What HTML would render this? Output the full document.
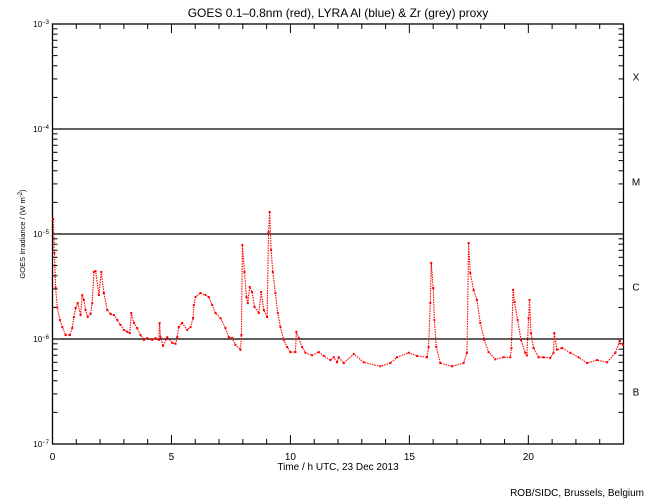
<!DOCTYPE html>
<html><head><meta charset="utf-8"><style>
body{margin:0;background:#fff;}
svg{display:block;font-family:"Liberation Sans",sans-serif;}
</style></head><body>
<svg id="chart" width="650" height="500" viewBox="0 0 650 500" xmlns="http://www.w3.org/2000/svg">
<rect width="650" height="500" fill="#fff"/>
<text x="338" y="17" font-size="12" text-anchor="middle">GOES 0.1–0.8nm (red), LYRA Al (blue) &amp; Zr (grey) proxy</text>
<text x="338" y="470" font-size="10" text-anchor="middle">Time / h UTC, 23 Dec 2013</text>
<text transform="translate(25,234) rotate(-90)" font-size="7.5" text-anchor="middle">GOES Irradiance / (W m<tspan dy="-3" font-size="6">-2</tspan><tspan dy="3">)</tspan></text>
<text x="644" y="496" font-size="10" text-anchor="end">ROB/SIDC, Brussels, Belgium</text>
<g id="axes"></g>
<g id="series"></g>
</svg>
<script>
const hours = [0.03,0.08,0.13,0.2,0.31,0.41,0.55,0.73,0.83,0.9,0.97,1.06,1.18,1.25,1.32,1.39,1.48,1.6,1.67,1.74,1.81,1.95,2.05,2.16,2.3,2.44,2.58,2.72,2.86,3.0,3.14,3.25,3.31,3.42,3.56,3.7,3.84,3.98,4.19,4.33,4.47,4.5,4.54,4.65,4.82,5.03,5.17,5.24,5.31,5.45,5.66,5.8,5.91,5.94,6.01,6.22,6.43,6.57,6.71,6.85,7.06,7.27,7.41,7.55,7.69,7.9,7.94,7.98,8.07,8.15,8.21,8.29,8.39,8.49,8.67,8.77,8.88,9.02,9.08,9.13,9.19,9.26,9.37,9.47,9.58,9.72,9.86,10.0,10.21,10.25,10.35,10.49,10.63,10.91,11.19,11.4,11.68,11.82,11.96,12.03,12.24,12.66,13.08,13.78,14.2,14.48,14.97,15.32,15.74,15.81,15.88,15.92,16.0,16.05,16.13,16.3,16.79,17.28,17.42,17.49,17.56,17.7,17.84,17.98,18.15,18.33,18.61,18.96,19.24,19.29,19.36,19.42,19.55,19.69,19.87,19.94,20.01,20.05,20.11,20.22,20.43,20.64,20.92,21.06,21.09,21.2,21.42,21.76,22.11,22.47,22.89,23.31,23.66,23.84,23.98];
const flux = [1.39e-5,6.6e-6,3.1e-6,2.0e-6,1.52e-6,1.30e-6,1.09e-6,1.09e-6,1.27e-6,1.62e-6,1.97e-6,2.2e-6,1.69e-6,2.62e-6,2.35e-6,1.89e-6,1.62e-6,1.73e-6,2.2e-6,4.35e-6,4.44e-6,2.62e-6,4.35e-6,2.74e-6,1.89e-6,1.73e-6,1.69e-6,1.52e-6,1.36e-6,1.22e-6,1.17e-6,1.14e-6,1.77e-6,1.42e-6,1.27e-6,1.09e-6,0.98e-6,1.02e-6,0.98e-6,1.02e-6,0.98e-6,1.42e-6,1.04e-6,0.86e-6,1.04e-6,0.92e-6,0.9e-6,1.04e-6,1.30e-6,1.42e-6,1.22e-6,1.30e-6,1.58e-6,2.11e-6,2.51e-6,2.74e-6,2.62e-6,2.51e-6,2.11e-6,1.77e-6,1.58e-6,1.27e-6,1.04e-6,1.02e-6,0.88e-6,0.79e-6,1.09e-6,7.86e-6,4.35e-6,2.51e-6,2.2e-6,3.13e-6,2.8e-6,2.02e-6,1.77e-6,2.8e-6,1.89e-6,1.62e-6,1.04e-5,1.62e-5,7.04e-6,4.35e-6,2.74e-6,1.77e-6,1.30e-6,0.98e-6,0.84e-6,0.75e-6,0.75e-6,1.17e-6,1.02e-6,0.84e-6,0.74e-6,0.70e-6,0.75e-6,0.69e-6,0.63e-6,0.67e-6,0.60e-6,0.67e-6,0.59e-6,0.72e-6,0.60e-6,0.55e-6,0.59e-6,0.67e-6,0.74e-6,0.69e-6,0.67e-6,0.84e-6,2.2e-6,5.3e-6,3.06e-6,1.52e-6,0.84e-6,0.59e-6,0.55e-6,0.59e-6,0.74e-6,8.2e-6,4.25e-6,2.93e-6,2.35e-6,1.42e-6,0.98e-6,0.75e-6,0.64e-6,0.67e-6,0.67e-6,0.82e-6,2.93e-6,2.25e-6,1.52e-6,0.98e-6,0.74e-6,0.70e-6,1.58e-6,2.35e-6,1.14e-6,0.82e-6,0.67e-6,0.67e-6,0.66e-6,0.74e-6,1.14e-6,0.79e-6,0.82e-6,0.74e-6,0.67e-6,0.59e-6,0.63e-6,0.60e-6,0.74e-6,0.96e-6,0.88e-6];
const xTickLabels = ["0","5","10","15","20"];
const yDecades = [-7,-6,-5,-4,-3];
const classLabels = ["B","C","M","X"];

const NS="http://www.w3.org/2000/svg";
const L=52.5,R=623.5,T=24,B=444;
function xScale(h){return L+(h/24)*(R-L);}
function yScale(v){return B-(Math.log10(v)+7)/4*(B-T);}
function mk(tag,attrs,parent){const e=document.createElementNS(NS,tag);for(const k in attrs)e.setAttribute(k,attrs[k]);parent.appendChild(e);return e;}
const ax=document.getElementById('axes');
const frame=mk('rect',{x:L,y:T,width:R-L,height:B-T,fill:'none',stroke:'#000','stroke-width':1.3},ax);


for(let h=0;h<=24;h++){
  const len=h%5===0?9:5;const x=xScale(h);
  const t1=mk('line',{x1:x,x2:x,y1:B,y2:B-len,stroke:'#000','stroke-width':1},ax);
  
  
  const t2=mk('line',{x1:x,x2:x,y1:T,y2:T+len,stroke:'#000','stroke-width':1},ax);
  
  
}
xTickLabels.forEach(s=>{
  const t=mk('text',{x:xScale(+s),y:460,'font-size':10,'text-anchor':'middle'},ax);t.textContent=s;
  
  
});
yDecades.forEach((d,i)=>{
  const y=yScale(Math.pow(10,d));
  const t=mk('text',{x:49,y:y+3,'font-size':8,'text-anchor':'end'},ax);
  t.textContent='10';
  const sp=mk('tspan',{dy:-3,'font-size':6},t);sp.textContent='−'+(-d);
  
  
  if(d>-7&&d<-3){
    const g=mk('line',{x1:L,x2:R,y1:y,y2:y,stroke:'#000','stroke-width':1.3},ax);
    
    
  }
  if(d<-3){
    for(let m=2;m<=9;m++){
      const yy=yScale(m*Math.pow(10,d));
      const a=mk('line',{x1:L,x2:L+5,y1:yy,y2:yy,stroke:'#000','stroke-width':1},ax);
      
      
      const b=mk('line',{x1:R,x2:R-5,y1:yy,y2:yy,stroke:'#000','stroke-width':1},ax);
      
      
    }
    const c=mk('text',{x:636,y:(y+yScale(Math.pow(10,d+1)))/2+4,'font-size':10,'text-anchor':'middle'},ax);
    c.textContent=classLabels[i];
    
    
  }
});
const sg=document.getElementById('series');
const pts=hours.map((h,i)=>xScale(h).toFixed(1)+','+yScale(flux[i]).toFixed(1)).join(' ');
const pl=mk('polyline',{points:pts,fill:'none',stroke:'#f00','stroke-width':1.1,'stroke-dasharray':'1.5 1'},sg);


hours.forEach((h,i)=>{
  const r=mk('rect',{x:xScale(h)-1,y:yScale(flux[i])-1,width:2,height:2,fill:'#f00'},sg);
  
  
});
</script>
</body></html>
